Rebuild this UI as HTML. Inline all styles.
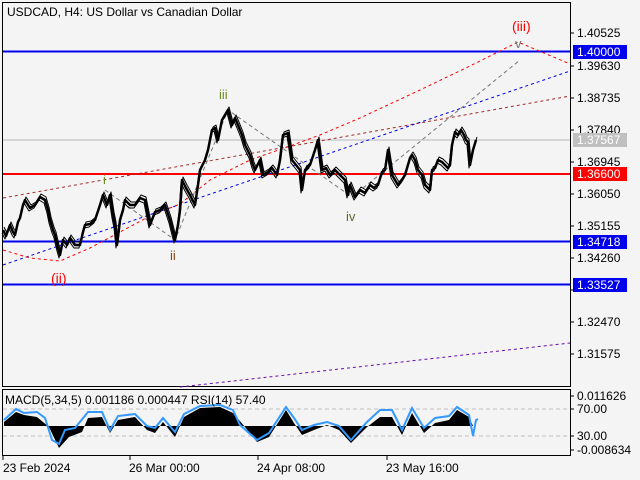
<!DOCTYPE html>
<html><head><meta charset="utf-8"><style>
html,body{margin:0;padding:0;background:#f4f4f4;}
svg{display:block;font-family:"Liberation Sans","DejaVu Sans",sans-serif;}
</style></head><body>
<svg width="640" height="480" viewBox="0 0 640 480" xmlns="http://www.w3.org/2000/svg">
<defs>
<polyline id="px" points="3,230 6,236 10,225 13,232 15,235 18,222 20,218 23,205 25,200 30,208 35,205 40,197 45,200 48,210 50,220 53,230 55,235 58,248 60,255 63,240 67,245 70,238 75,245 80,245 83,232 85,225 90,224 95,220 100,205 103,195 107,205 110,195 113,215 115,225 117,245 120,220 123,210 125,200 130,205 135,205 140,198 145,200 148,215 150,225 155,212 160,210 165,205 170,220 175,240 178,225 180,210 182,180 186,188 190,195 195,205 198,185 200,170 205,160 208,150 212,130 215,128 218,140 222,120 225,115 228,110 232,125 235,118 238,125 242,135 245,145 250,155 253,165 255,170 260,160 263,175 268,172 272,168 277,175 280,160 283,135 288,133 292,160 296,165 300,170 302,190 305,170 310,165 315,150 318,140 322,170 326,168 330,175 335,170 340,175 345,180 348,195 350,185 355,197 360,190 365,193 370,185 374,188 378,185 382,172 385,170 388,150 392,175 395,180 398,185 402,180 405,175 410,158 412,155 415,160 418,170 422,175 425,185 428,188 430,190 432,170 435,168 438,160 442,162 445,165 448,168 450,165 452,145 455,132 458,135 461,130 464,135 466,140 468,142 470,165 473,150 476,140" fill="none" stroke="#000" stroke-linejoin="round"/>
</defs>
<rect width="640" height="480" fill="#f4f4f4"/>
<rect x="2.5" y="2.5" width="568" height="384" fill="none" stroke="#000" stroke-width="1"/>
<text x="7" y="16" font-size="12" fill="#000">USDCAD, H4:  US Dollar vs Canadian Dollar</text>
<line x1="3" y1="140" x2="570" y2="140" stroke="#b8b8b8" stroke-width="1"/>
<line x1="3" y1="51.5" x2="570" y2="51.5" stroke="#0000ee" stroke-width="2"/>
<line x1="3" y1="174" x2="570" y2="174" stroke="#ff0000" stroke-width="2"/>
<line x1="3" y1="241.5" x2="570" y2="241.5" stroke="#0000ee" stroke-width="2"/>
<line x1="3" y1="284.5" x2="570" y2="284.5" stroke="#0000ee" stroke-width="2"/>
<line x1="3" y1="198" x2="570" y2="96" stroke="#a52a2a" stroke-width="1" stroke-dasharray="3,3"/>
<line x1="3" y1="265" x2="570" y2="71" stroke="#0000ee" stroke-width="1" stroke-dasharray="3,3"/>
<polyline points="3,250 30,258 60,261 90,248 120,232 150,216 180,204 210,180 250,160 290,146 320,135 360,118 420,90 470,66 518,42 570,64" fill="none" stroke="#ff0000" stroke-width="1" stroke-dasharray="3,3"/>
<line x1="180" y1="387" x2="570" y2="343" stroke="#6a0dad" stroke-width="1" stroke-dasharray="3,3"/>
<polyline points="105,190 175,240 228,110 285,150 352,197 520,60" fill="none" stroke="#777" stroke-width="1" stroke-dasharray="4,3"/>
<use href="#px" stroke-width="2.5"/>
<use href="#px" stroke-width="1" transform="translate(1,-3)"/>
<use href="#px" stroke-width="1" transform="translate(-1,3)"/>
<text x="219" y="99" font-size="13" fill="#6b8e23">iii</text>
<text x="103" y="184" font-size="13" fill="#6b8e23">i</text>
<text x="170" y="260" font-size="13" fill="#8b4513">ii</text>
<text x="346" y="221" font-size="13" fill="#556b2f">iv</text>
<text x="515" y="48" font-size="13" fill="#777">v</text>
<text x="51" y="283" font-size="14" fill="#ff0000">(ii)</text>
<text x="512" y="31" font-size="14" fill="#ff0000">(iii)</text>
<g font-size="12" fill="#000">
<line x1="570" y1="33" x2="574" y2="33" stroke="#000"/><text x="577" y="37">1.40525</text>
<line x1="570" y1="66" x2="574" y2="66" stroke="#000"/><text x="577" y="70">1.39630</text>
<line x1="570" y1="98" x2="574" y2="98" stroke="#000"/><text x="577" y="102">1.38735</text>
<line x1="570" y1="130" x2="574" y2="130" stroke="#000"/><text x="577" y="134">1.37840</text>
<line x1="570" y1="162" x2="574" y2="162" stroke="#000"/><text x="577" y="166">1.36945</text>
<line x1="570" y1="194" x2="574" y2="194" stroke="#000"/><text x="577" y="198">1.36050</text>
<line x1="570" y1="226" x2="574" y2="226" stroke="#000"/><text x="577" y="230">1.35155</text>
<line x1="570" y1="258" x2="574" y2="258" stroke="#000"/><text x="577" y="262">1.34260</text>
<line x1="570" y1="290" x2="574" y2="290" stroke="#000"/>
<line x1="570" y1="322" x2="574" y2="322" stroke="#000"/><text x="577" y="326">1.32470</text>
<line x1="570" y1="354" x2="574" y2="354" stroke="#000"/><text x="577" y="358">1.31575</text>
</g>
<g font-size="12">
<rect x="573" y="45" width="54" height="14" fill="#0000ee"/><text x="577" y="56" fill="#fff">1.40000</text>
<rect x="573" y="133" width="54" height="14" fill="#c0c0c0"/><text x="577" y="144" fill="#fff">1.37567</text>
<rect x="573" y="167" width="54" height="14" fill="#ff0000"/><text x="577" y="178" fill="#fff">1.36600</text>
<rect x="573" y="235" width="54" height="14" fill="#0000ee"/><text x="577" y="246" fill="#fff">1.34718</text>
<rect x="573" y="278" width="54" height="14" fill="#0000ee"/><text x="577" y="289" fill="#fff">1.33527</text>
</g>
<rect x="2.5" y="389.5" width="568" height="66" fill="none" stroke="#000" stroke-width="1"/>
<line x1="3" y1="409" x2="570" y2="409" stroke="#c0c0c0" stroke-dasharray="4,3"/>
<line x1="3" y1="436" x2="570" y2="436" stroke="#c0c0c0" stroke-dasharray="4,3"/>
<polygon points="4,426 4,422 16,412 24,415 37,417 49,427 59,448 69,437 82,432 88,418 102,417 110,433 118,420 135,417 147,430 155,433 163,422 175,437 184,417 200,408 220,407 233,413 245,427 257,442 269,437 286,410 294,423 302,435 314,430 327,425 339,430 351,443 367,427 380,417 392,417 402,435 412,413 424,433 435,423 449,420 457,410 469,417 473,426" fill="#000"/>
<polyline points="4,420 16,409 24,413 37,412 45,418 52,440 59,444 65,430 75,428 88,412 102,412 110,430 118,416 135,414 147,426 155,428 163,418 175,432 184,414 200,406 220,405 233,410 240,425 257,440 269,433 286,407 294,418 302,430 314,425 327,422 339,426 351,440 367,422 380,410 392,410 402,430 412,408 424,428 435,418 449,416 457,407 469,415 473,436 476,420 478,419" fill="none" stroke="#3399ff" stroke-width="2"/>
<text x="5" y="404" font-size="12" fill="#000">MACD(5,34,5) 0.001186 0.000447 RSI(14) 57.40</text>
<g font-size="12" fill="#000">
<line x1="570" y1="396" x2="574" y2="396" stroke="#000"/><text x="577" y="400">0.011626</text>
<line x1="570" y1="409" x2="574" y2="409" stroke="#000"/><text x="577" y="413">70.00</text>
<line x1="570" y1="436" x2="574" y2="436" stroke="#000"/><text x="577" y="440">30.00</text>
<line x1="570" y1="450" x2="574" y2="450" stroke="#000"/><text x="577" y="454">-0.008634</text>
</g>
<g font-size="12" fill="#000">
<line x1="3" y1="456" x2="3" y2="460" stroke="#000"/><text x="3" y="472">23 Feb 2024</text>
<line x1="130" y1="456" x2="130" y2="460" stroke="#000"/><text x="129" y="472">26 Mar 00:00</text>
<line x1="258" y1="456" x2="258" y2="460" stroke="#000"/><text x="257" y="472">24 Apr 08:00</text>
<line x1="387" y1="456" x2="387" y2="460" stroke="#000"/><text x="386" y="472">23 May 16:00</text>
</g>
</svg>
</body></html>
